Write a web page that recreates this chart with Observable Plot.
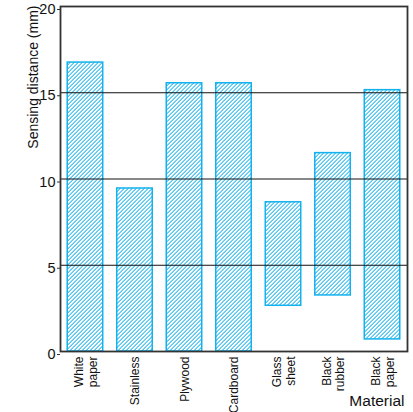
<!DOCTYPE html>
<html>
<head>
<meta charset="utf-8">
<script src="https://cdn.jsdelivr.net/npm/d3@7"></script>
<script src="https://cdn.jsdelivr.net/npm/@observablehq/plot@0.6"></script>
<style>
  body { margin: 0; background: #fff; }
  svg { font-family: "Liberation Sans", Arial, sans-serif; }
</style>
</head>
<body>
<div id="chart"></div>
<script>
const materials = ["White paper", "Stainless", "Plywood", "Cardboard", "Glass sheet", "Black rubber", "Black paper"];
const tickLabels = ["White\npaper", "Stainless", "Plywood", "Cardboard", "Glass\nsheet", "Black\nrubber", "Black\npaper"];
const minDistance = [0, 0, 0, 0, 2.65, 3.25, 0.7];
const maxDistance = [16.75, 9.45, 15.55, 15.55, 8.65, 11.5, 15.15];
const gridValues = [5, 10, 15];
const yTicks = [0, 5, 10, 15, 20];

const data = materials.map((m, i) => ({material: m, lo: minDistance[i], hi: maxDistance[i]}));
const labelOf = new Map(materials.map((m, i) => [m, tickLabels[i]]));

const blue = "#12b2ee";

const chart = Plot.plot({
  width: 413,
  height: 412,
  marginLeft: 60,
  marginRight: 6,
  marginTop: 6,
  marginBottom: 61,
  style: {fontSize: "12px", fontFamily: "Liberation Sans, Arial, sans-serif", color: "#111"},
  x: {domain: materials, paddingInner: 0.283, paddingOuter: 0.146, round: false, label: null},
  y: {domain: [0, 20], label: null},
  marks: [
    Plot.barY(data, {x: "material", y1: "lo", y2: "hi", fill: "url(#hatchBlue)", stroke: blue, strokeWidth: 1.5}),
    Plot.ruleY(gridValues, {stroke: "#111", strokeWidth: 1}),
    Plot.frame({stroke: "#333", strokeWidth: 1.8}),
    Plot.axisY({ticks: yTicks, tickSize: 3, tickPadding: 2, fontSize: 14.5, dy: 3, stroke: "#333"}),
    Plot.axisX({tickSize: 0, tickRotate: -90, tickPadding: 5, tickFormat: d => labelOf.get(d), fontSize: 12, lineHeight: 1.15}),
    Plot.text(["Sensing distance (mm)"], {frameAnchor: "top-left", dx: -32, dy: -1, rotate: -90, textAnchor: "end", fontSize: 14, fill: "#111"}),
    Plot.text(["Material"], {frameAnchor: "bottom-right", dx: -3, dy: 54, textAnchor: "end", fontSize: 15.5, fill: "#111"})
  ]
});

const svg = d3.select(chart);
const pattern = svg.insert("defs", ":first-child")
  .append("pattern")
  .attr("id", "hatchBlue")
  .attr("patternUnits", "userSpaceOnUse")
  .attr("width", 4)
  .attr("height", 4)
  .attr("color", blue);
pattern.append("rect")
  .attr("width", 4).attr("height", 4)
  .attr("fill", "#ffffff");
// diagonal "/" band drawn as filled polygons (bottom-left to top-right)
pattern.append("path")
  .attr("d", "M0,4 L4,0 L4,1.2 L1.2,4 Z M0,0 L0,1.2 L1.2,0 Z M-0.6,4.6 L0,4 L1.2,4 Z")
  .attr("fill", blue)
  .style("fill", blue)
  .attr("stroke", "none");
document.getElementById("chart").appendChild(chart);
</script>
</body>
</html>
